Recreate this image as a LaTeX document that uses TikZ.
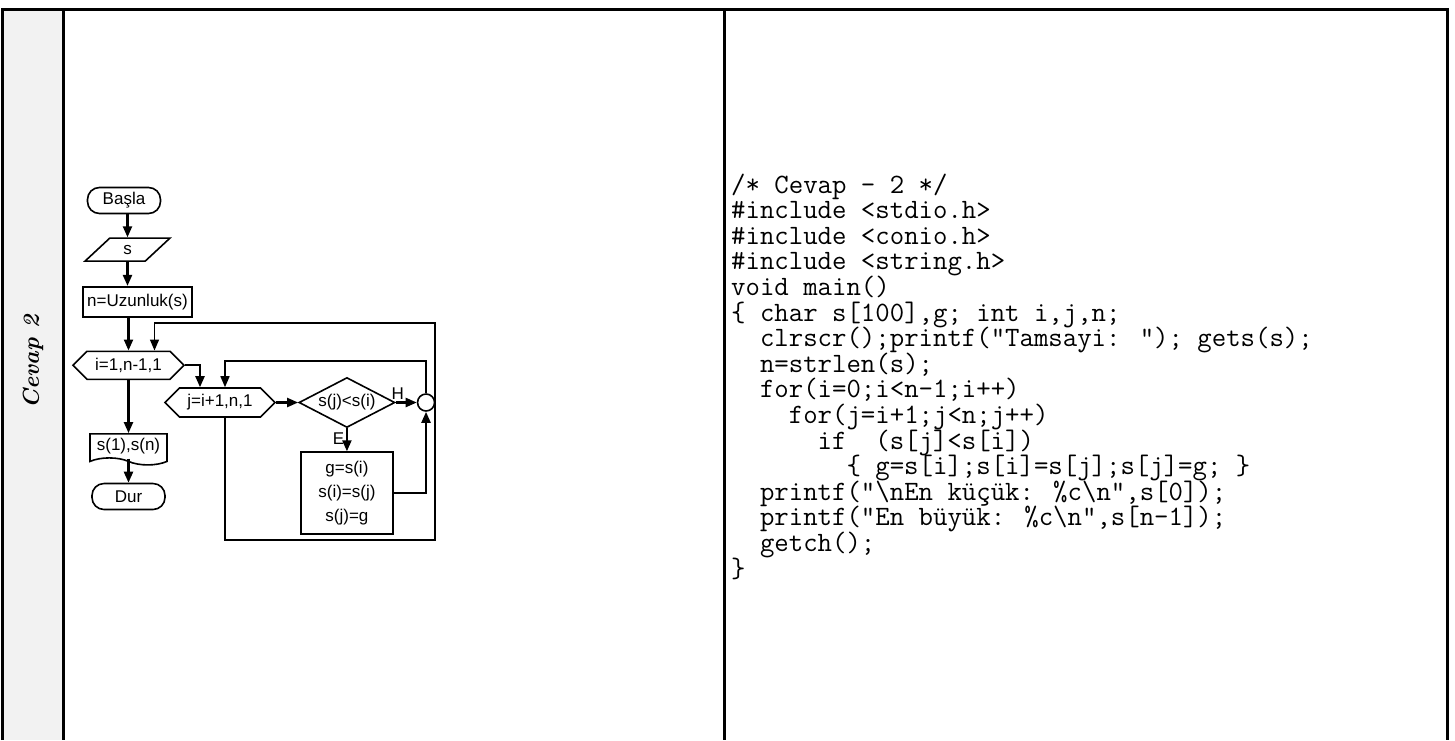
\documentclass[tikz,border=0pt]{standalone}
\usepackage{fontspec}
\newfontfamily\flowfont{Liberation Sans}
\usetikzlibrary{shapes.geometric, shapes.symbols, arrows.meta, positioning}

\begin{document}
\begin{tikzpicture}[x=1pt, y=-1pt,
    flow/.style     ={font=\flowfont\fontsize{17}{20}\selectfont},
    startstop/.style={rectangle, rounded corners=12pt, draw, line width=1.6pt, flow,
                      minimum width=73pt, minimum height=26pt},
    io/.style       ={trapezium, trapezium left angle=57, trapezium right angle=123,
                      trapezium stretches=true, draw, line width=1.6pt, flow,
                      minimum width=85pt, minimum height=23pt, inner sep=1pt},
    process/.style  ={rectangle, draw, line width=1.6pt, flow, inner sep=4pt},
    loopc/.style    ={signal, signal to=east and west, signal pointer angle=90,
                      draw, line width=1.6pt, flow, minimum height=28pt, inner sep=2pt},
    decision/.style ={diamond, aspect=2, draw, line width=1.6pt, flow,
                      minimum width=96pt, minimum height=50pt, inner sep=0pt},
    printout/.style ={tape, tape bend top=none, tape bend bottom=out and in,
                      tape bend height=7pt, draw, line width=1.6pt, flow,
                      minimum width=77pt, minimum height=31pt},
    joint/.style    ={circle, draw, line width=1.6pt, minimum size=17pt, inner sep=0pt},
    flag/.style     ={flow, inner sep=1.5pt},
    arr/.style      ={-{Triangle[length=11pt, width=9pt]}, line width=2.2pt},
    backarr/.style  ={-{Triangle[length=11pt, width=9pt]}, line width=1.5pt},
    code/.style     ={font=\ttfamily\fontsize{28}{28}\selectfont, inner sep=0pt, anchor=base west},
    frame/.style    ={line width=3pt}
  ]
  \useasboundingbox (0,0) rectangle (1455,740);

  % table frame
  \fill[black!5] (2,9) rectangle (63,740);
  \draw[frame] (2,740) -- (2,9) -- (1447,9) -- (1447,740);
  \draw[frame] (63,9) -- (63,740);
  \draw[frame] (724,9) -- (724,740);
  \node[rotate=90, font=\bfseries\itshape\fontsize{23}{23}\selectfont] (title) at (33,362) {Cevap 2};

  % flowchart
  \node[startstop] (basla) at (124,200.5) {Başla};
  \node[io,       below=23pt of basla, xshift=3.5pt] (sin)  {s};
  \node[process,  below=24pt of sin, xshift=10pt, minimum height=30pt] (nset) {n=Uzunluk(s)};
  \node[loopc,    below=33pt of nset, xshift=-9pt, minimum width=111pt] (ihex) {i=1,n-1,1};
  \node[printout, below=53pt of ihex] (outp) {s(1),s(n)};
  \node[startstop, below=24pt of outp] (dur) {Dur};
  \node[loopc, minimum width=110pt, minimum height=29pt] (jhex) at (220,402.5) {j=i+1,n,1};
  \node[decision, right=22pt of jhex] (cmp)  {s(j)<s(i)};
  \node[joint,    right=21pt of cmp]  (circ) {};
  \node[process,  below=23pt of cmp, minimum width=92pt, minimum height=82pt, align=center,
        font=\flowfont\fontsize{17}{24}\selectfont] (swap) {g=s(i)\\s(i)=s(j)\\s(j)=g};

  \coordinate (it) at (225,361);
  \coordinate (ob) at (435,540);
  \coordinate (ot) at (435,323);

  \draw[arr] (sin.north |- basla.south) -- (sin.north);
  \draw[arr] (sin.south) -- (sin.south |- nset.north);
  \draw[arr] (nset.south -| ihex.north) -- (ihex.north);
  \draw[arr] (ihex.east) -| ([xshift=-20pt]jhex.north);
  \draw[arr] (ihex.south) -- (outp.north);
  \draw[arr] (outp.south) -- (dur.north);
  \draw[arr] (jhex.east) -- (cmp.west);
  \draw[arr] (cmp.east) -- node[pos=0.1, above, flag] {H} (circ.west);
  \draw[arr] (cmp.south) -- node[pos=0.45, left, flag] {E} (swap.north);
  \draw[arr] (swap.east) -| (circ.south);
  \draw[backarr] (circ.north) |- (it) -- (it |- jhex.north);
  \draw[backarr] ([xshift=5pt]jhex.south) |- (ob) -- (ot) -| ([xshift=26pt]ihex.north);

  % C code
  \foreach \ln [count=\k] in {
      {/* Cevap - 2 */},
      {\#include <stdio.h>},
      {\#include <conio.h>},
      {\#include <string.h>},
      {void main()},
      {\{ char s[100],g; int i,j,n;},
      {~~clrscr();printf("Tamsayi: "); gets(s);},
      {~~n=strlen(s);},
      {~~for(i=0;i<n-1;i++)},
      {~~~~for(j=i+1;j<n;j++)},
      {~~~~~~if~~(s[j]<s[i])},
      {~~~~~~~~\{ g=s[i];s[i]=s[j];s[j]=g; \}},
      {~~printf("\textbackslash nEn küçük: \%c\textbackslash n",s[0]);},
      {~~printf("En büyük: \%c\textbackslash n",s[n-1]);},
      {~~getch();},
      {\}}}
    \node[code] (code\k) at (731,167.4+25.6*\k) {\ln};
\end{tikzpicture}
\end{document}
